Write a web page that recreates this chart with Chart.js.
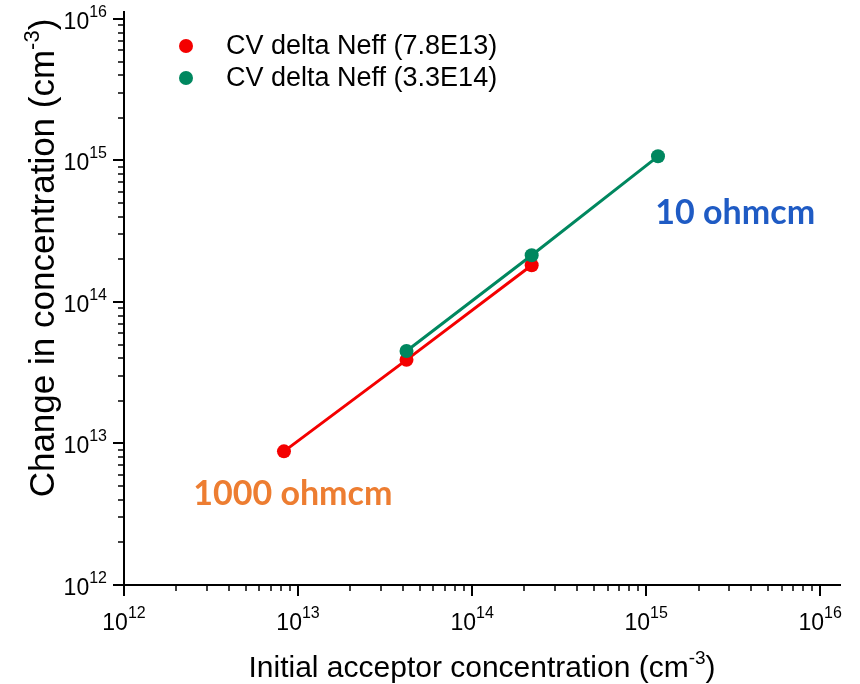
<!DOCTYPE html>
<html>
<head>
<meta charset="utf-8">
<script src="https://cdn.jsdelivr.net/npm/chart.js@4.4.1/dist/chart.umd.min.js"></script>
<style>
  body { margin: 0; background: #fff; }
</style>
</head>
<body>
<canvas id="neffChart" width="860" height="684"></canvas>
<script>
// initial acceptor concentration (cm^-3) vs. change in Neff, one series per fluence
const redLabel = 'CV delta Neff (7.8E13)';
const redX = [8.3e12, 4.2e13, 2.2e14];
const redY = [8.8e12, 3.9e13, 1.82e14];

const greenLabel = 'CV delta Neff (3.3E14)';
const greenX = [4.2e13, 2.2e14, 1.17e15];
const greenY = [4.5e13, 2.14e14, 1.07e15];

// decade exponents labelled on both axes
const tickExps = [12, 13, 14, 15, 16];

// resistivity notes, anchored in data coordinates (left edge, baseline)
const notes = [
    { text: '1000 ohmcm', x: 2.5e12, y: 3.7e12, color: '#ED7D31' },
    { text: '10 ohmcm', x: 1.13e15, y: 3.56e14, color: '#1F5BC4' }
];

const FONT = '"Liberation Sans", Arial, sans-serif';

function toPoints(xs, ys) {
    return xs.map((x, i) => ({ x: x, y: ys[i] }));
}

// draws "base" followed by a raised superscript; align is 'center' or 'right'
function drawSup(ctx, base, sup, x, y, baseSize, supSize, rise, align) {
    ctx.font = baseSize + 'px ' + FONT;
    const wb = ctx.measureText(base).width;
    ctx.font = supSize + 'px ' + FONT;
    const ws = ctx.measureText(sup).width;
    let x0 = x;
    if (align === 'center') x0 = x - (wb + ws) / 2;
    if (align === 'right') x0 = x - (wb + ws);
    ctx.textAlign = 'left';
    ctx.textBaseline = 'alphabetic';
    ctx.font = baseSize + 'px ' + FONT;
    ctx.fillText(base, x0, y);
    ctx.font = supSize + 'px ' + FONT;
    ctx.fillText(sup, x0 + wb, y - rise);
}

// title with a trailing "(cm^-3)"
function drawUnitTitle(ctx, text, cx, y, size) {
    const supSize = Math.round(size * 0.62);
    ctx.font = size + 'px ' + FONT;
    const w1 = ctx.measureText(text).width;
    const w3 = ctx.measureText(')').width;
    ctx.font = supSize + 'px ' + FONT;
    const w2 = ctx.measureText('-3').width;
    let x0 = cx - (w1 + w2 + w3) / 2;
    ctx.textAlign = 'left';
    ctx.textBaseline = 'alphabetic';
    ctx.font = size + 'px ' + FONT;
    ctx.fillText(text, x0, y);
    ctx.font = supSize + 'px ' + FONT;
    ctx.fillText('-3', x0 + w1, y - size * 0.42);
    ctx.font = size + 'px ' + FONT;
    ctx.fillText(')', x0 + w1 + w2, y);
}

const axisDecor = {
    id: 'axisDecor',
    afterDraw(chart) {
        const ctx = chart.ctx;
        const xs = chart.scales.x;
        const ys = chart.scales.y;
        const area = chart.chartArea;
        ctx.save();
        ctx.strokeStyle = '#000';
        ctx.fillStyle = '#000';

        // major and minor tick marks, pointing outward
        tickExps.forEach(e => {
            for (let m = 1; m <= 9; m++) {
                if (e === tickExps[tickExps.length - 1] && m > 1) break;
                const v = m * Math.pow(10, e);
                const len = m === 1 ? 11 : 6;
                ctx.lineWidth = m === 1 ? 2 : 1.5;
                const px = Math.round(xs.getPixelForValue(v));
                ctx.beginPath();
                ctx.moveTo(px, area.bottom);
                ctx.lineTo(px, area.bottom + len);
                ctx.stroke();
                const py = Math.round(ys.getPixelForValue(v));
                ctx.beginPath();
                ctx.moveTo(area.left, py);
                ctx.lineTo(area.left - len, py);
                ctx.stroke();
            }
        });

        // decade labels
        tickExps.forEach(e => {
            const v = Math.pow(10, e);
            drawSup(ctx, '10', String(e), xs.getPixelForValue(v), 630, 23, 16, 12, 'center');
            drawSup(ctx, '10', String(e), 107, ys.getPixelForValue(v) + 10, 23, 16, 12, 'right');
        });

        // axis titles
        drawUnitTitle(ctx, 'Initial acceptor concentration (cm', 482, 677, 30);
        ctx.save();
        ctx.translate(54, 258);
        ctx.rotate(-Math.PI / 2);
        drawUnitTitle(ctx, 'Change in concentration (cm', 0, 0, 35);
        ctx.restore();

        // legend
        chart.data.datasets.forEach((ds, i) => {
            const ly = 46 + i * 32;
            ctx.fillStyle = ds.backgroundColor;
            ctx.beginPath();
            ctx.arc(186, ly, 7, 0, Math.PI * 2);
            ctx.fill();
            ctx.fillStyle = '#000';
            ctx.font = '27px ' + FONT;
            ctx.textAlign = 'left';
            ctx.textBaseline = 'middle';
            ctx.fillText(ds.label, 226, ly + 1);
        });

        // resistivity notes
        notes.forEach(n => {
            ctx.fillStyle = n.color;
            ctx.font = 'bold 34px Lato, "Open Sans", sans-serif';
            ctx.textAlign = 'left';
            ctx.textBaseline = 'alphabetic';
            ctx.fillText(n.text, xs.getPixelForValue(n.x), ys.getPixelForValue(n.y));
        });
        ctx.restore();
    }
};

const ctx = document.getElementById('neffChart').getContext('2d');
const neffChart = new Chart(ctx, {
    type: 'line',
    data: {
        datasets: [{
            label: redLabel,
            data: toPoints(redX, redY),
            borderColor: '#F40000',
            backgroundColor: '#F40000',
            borderWidth: 3,
            pointRadius: 7,
            pointHoverRadius: 7,
            pointBorderWidth: 0,
            order: 1
        }, {
            label: greenLabel,
            data: toPoints(greenX, greenY),
            borderColor: '#00875F',
            backgroundColor: '#00875F',
            borderWidth: 3,
            pointRadius: 7,
            pointHoverRadius: 7,
            pointBorderWidth: 0,
            order: 0
        }]
    },
    options: {
        responsive: false,
        animation: false,
        layout: { padding: { left: 124, right: 20, top: 12, bottom: 99 } },
        plugins: {
            legend: { display: false },
            tooltip: { enabled: false }
        },
        scales: {
            x: {
                type: 'logarithmic',
                min: 1e12,
                max: 1.3e16,
                ticks: { display: false },
                grid: { display: false, drawTicks: false },
                border: { color: '#000', width: 2 },
                afterFit: s => { s.height = 0; }
            },
            y: {
                type: 'logarithmic',
                min: 1e12,
                max: 1.12e16,
                ticks: { display: false },
                grid: { display: false, drawTicks: false },
                border: { color: '#000', width: 2 },
                afterFit: s => { s.width = 0; }
            }
        }
    },
    plugins: [axisDecor]
});
</script>
</body>
</html>
